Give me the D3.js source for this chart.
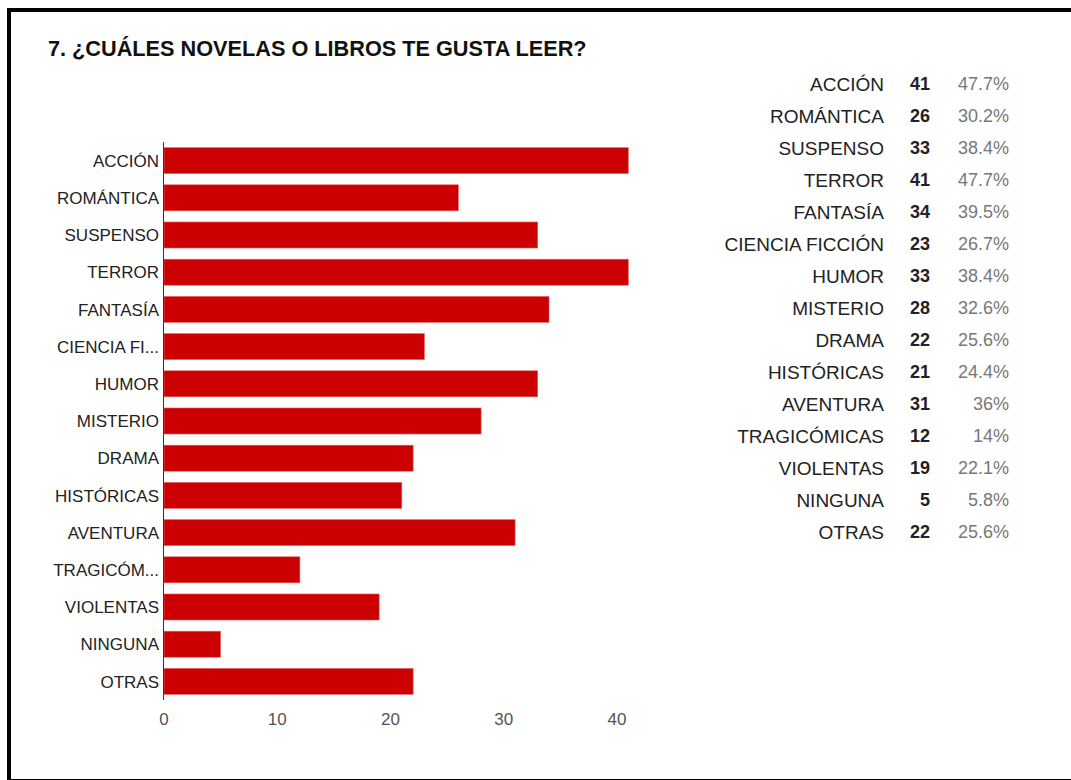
<!DOCTYPE html>
<html lang="es">
<head>
  <meta charset="UTF-8" />
  <title>7. ¿Cuáles novelas o libros te gusta leer?</title>
  <script src="https://d3js.org/d3.v7.min.js"></script>
  <style>
    body { margin: 0; background: #fff; overflow: hidden; }
    svg { display: block; font-family: "Liberation Sans", Arial, sans-serif; }
    .bar { fill: #cc0000; stroke: #e56a6a; stroke-width: 0.6px; }
    .ylabel { fill: #222; font-size: 17px; }
    .xtick { fill: #555; font-size: 17px; }
    .tbl-name { fill: #222; font-size: 19px; }
    .tbl-count { fill: #222; font-size: 18px; font-weight: bold; }
    .tbl-pct { fill: #777; font-size: 18px; }
  </style>
</head>
<body>
  <svg width="1071" height="780"></svg>
  <script>
    // Datos
    const categorias = ["ACCIÓN", "ROMÁNTICA", "SUSPENSO", "TERROR", "FANTASÍA",
      "CIENCIA FICCIÓN", "HUMOR", "MISTERIO", "DRAMA", "HISTÓRICAS", "AVENTURA",
      "TRAGICÓMICAS", "VIOLENTAS", "NINGUNA", "OTRAS"];
    const etiquetasEje = ["ACCIÓN", "ROMÁNTICA", "SUSPENSO", "TERROR", "FANTASÍA",
      "CIENCIA FI...", "HUMOR", "MISTERIO", "DRAMA", "HISTÓRICAS", "AVENTURA",
      "TRAGICÓM...", "VIOLENTAS", "NINGUNA", "OTRAS"];
    const respuestas = [41, 26, 33, 41, 34, 23, 33, 28, 22, 21, 31, 12, 19, 5, 22];
    const porcentajes = [47.7, 30.2, 38.4, 47.7, 39.5, 26.7, 38.4, 32.6, 25.6, 24.4, 36, 14, 22.1, 5.8, 25.6];
    const ticks = [0, 10, 20, 30, 40];

    const width = 1071, height = 780;
    const svg = d3.select("svg");

    // marco negro
    svg.append("rect")
      .attr("x", 9).attr("y", 10)
      .attr("width", 1064).attr("height", 771)
      .attr("fill", "none").attr("stroke", "#000").attr("stroke-width", 4);

    // título
    svg.append("text")
      .attr("x", 48).attr("y", 56)
      .attr("font-size", 21.7).attr("font-weight", "bold").attr("fill", "#111")
      .text("7. ¿CUÁLES NOVELAS O LIBROS TE GUSTA LEER?");

    // escalas
    const x = d3.scaleLinear().domain([0, 40]).range([164, 617]);
    const y = d3.scaleBand().domain(categorias).range([142, 700]).paddingInner(0.3).paddingOuter(0.15);

    const chart = svg.append("g");

    chart.selectAll("rect.bar")
      .data(respuestas)
      .join("rect")
        .attr("class", "bar")
        .attr("x", x(0))
        .attr("y", (d, i) => y(categorias[i]))
        .attr("width", d => x(d) - x(0))
        .attr("height", y.bandwidth());

    // etiquetas del eje vertical
    chart.selectAll("text.ylabel")
      .data(etiquetasEje)
      .join("text")
        .attr("class", "ylabel")
        .attr("x", 159)
        .attr("y", (d, i) => y(categorias[i]) + y.bandwidth() / 2)
        .attr("dy", "0.36em")
        .attr("text-anchor", "end")
        .text(d => d);

    // línea del eje
    chart.append("line")
      .attr("x1", 163.5).attr("x2", 163.5)
      .attr("y1", 142).attr("y2", 700)
      .attr("stroke", "#333").attr("stroke-width", 1);

    // marcas del eje horizontal
    chart.selectAll("text.xtick")
      .data(ticks)
      .join("text")
        .attr("class", "xtick")
        .attr("x", d => x(d))
        .attr("y", 725)
        .attr("text-anchor", "middle")
        .text(d => d);

    // tabla de la derecha
    const fila = d3.scaleLinear().domain([0, categorias.length - 1]).range([84, 532]);
    const fmt = d3.format("~");
    const tabla = svg.append("g");

    tabla.selectAll("text.tbl-name")
      .data(categorias)
      .join("text")
        .attr("class", "tbl-name")
        .attr("x", 884).attr("y", (d, i) => fila(i))
        .attr("dy", "0.36em").attr("text-anchor", "end")
        .text(d => d);

    tabla.selectAll("text.tbl-count")
      .data(respuestas)
      .join("text")
        .attr("class", "tbl-count")
        .attr("x", 930).attr("y", (d, i) => fila(i))
        .attr("dy", "0.36em").attr("text-anchor", "end")
        .text(d => d);

    tabla.selectAll("text.tbl-pct")
      .data(porcentajes)
      .join("text")
        .attr("class", "tbl-pct")
        .attr("x", 1009).attr("y", (d, i) => fila(i))
        .attr("dy", "0.36em").attr("text-anchor", "end")
        .text(d => fmt(d) + "%");
  </script>
</body>
</html>
